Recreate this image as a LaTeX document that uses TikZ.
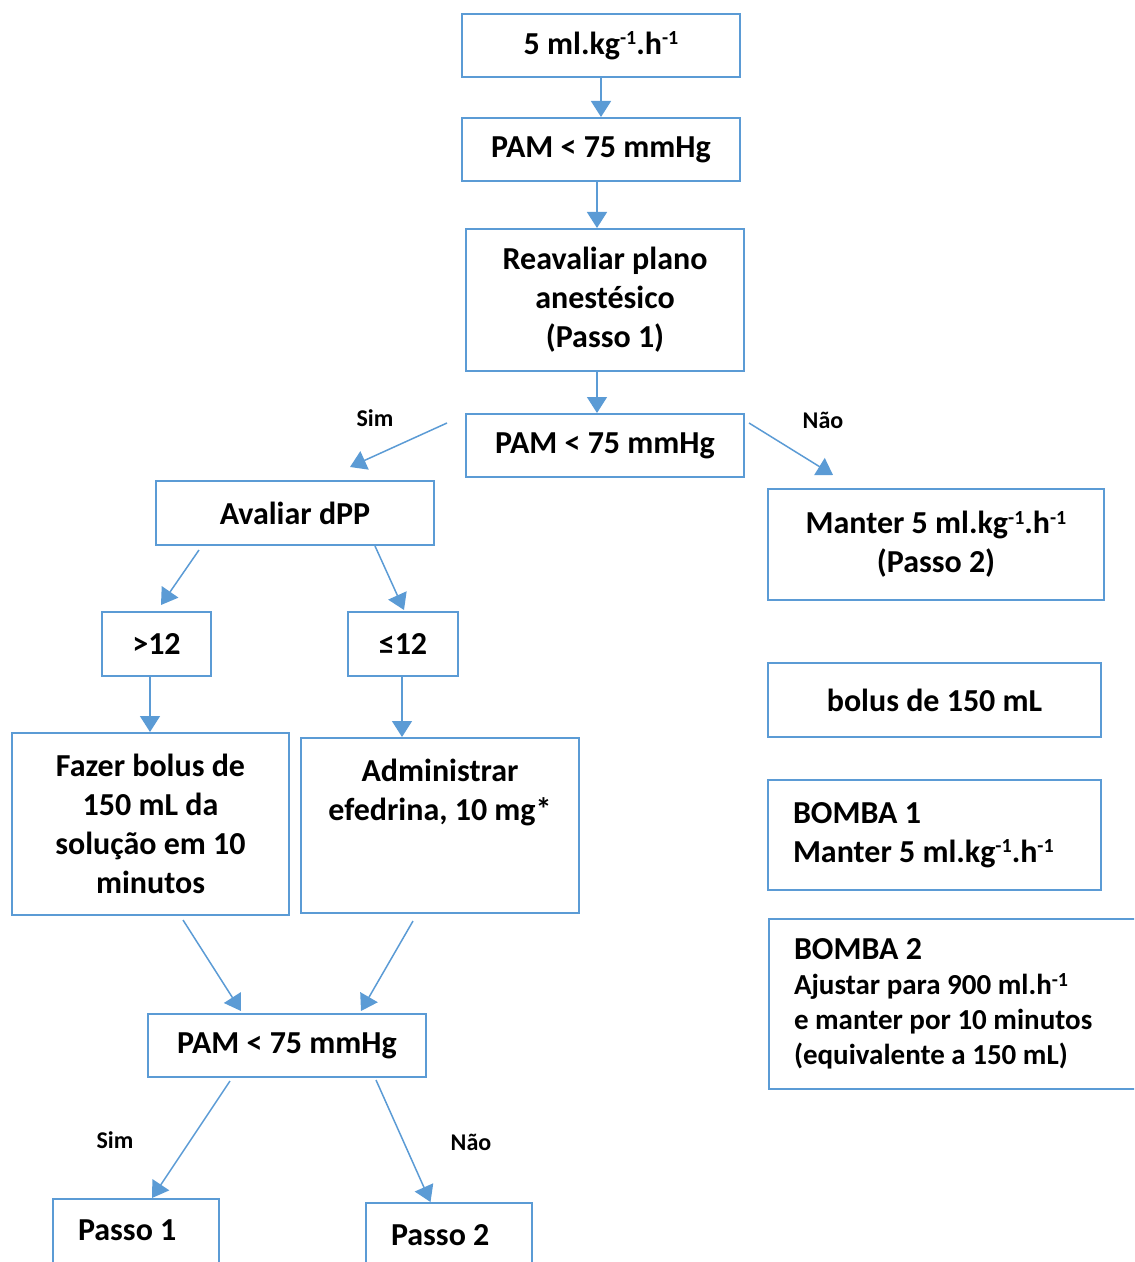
\documentclass[tikz,border=0pt]{standalone}
\usepackage{fontspec}
\setmainfont{Carlito}
\usetikzlibrary{arrows.meta}
\definecolor{boxblue}{HTML}{5B9BD5}
\newcommand\expo[1]{\raisebox{0.62ex}{\fontsize{10}{10}\selectfont#1}}

\begin{document}
\begin{tikzpicture}[x=0.5pt,y=-0.5pt,
    box/.style={draw=boxblue, line width=1pt, inner sep=0pt, align=center,
      font=\bfseries\fontsize{16}{19.5}\selectfont},
    arr/.style={draw=boxblue, line width=0.75pt, -{Triangle[width=10pt,length=8pt]}},
    lbl/.style={font=\bfseries\fontsize{12}{14}\selectfont}]
  \useasboundingbox (0,0) rectangle (1134,1262);
  \clip (0,0) rectangle (1134,1262);

  % main column
  \node[box, minimum width=139pt, minimum height=31.5pt] (dose) at (601,45.5) {5 ml.kg\expo{-1}.h\expo{-1}};
  \node[box, minimum width=139pt, minimum height=31.5pt] (pamA) at (601,149.5) {PAM < 75 mmHg};
  \node[box, minimum width=139pt, minimum height=71pt] (reav) at (605,300) {Reavaliar plano\\anestésico\\(Passo 1)};
  \node[box, minimum width=139pt, minimum height=31.5pt] (pamB) at (605,445.5) {PAM < 75 mmHg};

  % left branch
  \node[box, minimum width=139pt, minimum height=32pt] (aval) at (295,513) {Avaliar dPP};
  \node[box, minimum width=54.5pt, minimum height=32pt] (gt) at (156.5,644) {>12};
  \node[box, minimum width=55pt, minimum height=32pt] (le) at (403,644) {≤12};
  \node[box, minimum width=138.5pt, minimum height=91pt] (fazer) at (150.5,824) {Fazer bolus de\\150 mL da\\solução em 10\\minutos};
  \node[box, anchor=north, minimum width=139pt, inner ysep=10pt, text height=31pt, text depth=36.5pt] (adm) at (440,737) {Administrar\\efedrina, 10 mg*};
  \node[box, minimum width=139pt, minimum height=31.5pt] (pamC) at (287,1045.5) {PAM < 75 mmHg};
  \node[box, anchor=north west, text width=58pt, align=flush left, inner xsep=12.5pt, inner ysep=10.5pt, text depth=40pt] (passoA) at (52,1198) {Passo 1};
  \node[box, anchor=north west, text width=58pt, align=flush left, inner xsep=12.5pt, inner ysep=10.5pt, text depth=40pt] (passoB) at (365,1202) {Passo 2};

  % right column
  \node[box, minimum width=168pt, minimum height=55.5pt] (manter) at (936,544.5) {Manter 5 ml.kg\expo{-1}.h\expo{-1}\\(Passo 2)};
  \node[box, minimum width=166.5pt, minimum height=37pt] (bolus) at (934.5,700) {bolus de 150 mL};
  \node[box, minimum height=55pt, text width=141.5pt, align=flush left, inner xsep=12.5pt] (bombaA) at (934.5,835) {BOMBA 1\\Manter 5 ml.kg\expo{-1}.h\expo{-1}};
  \node[box, anchor=north west, minimum height=85pt, text width=171pt, align=flush left, inner xsep=12.5pt,
    font=\bfseries\fontsize{14.5}{17.5}\selectfont] (bombaB) at (768,918)
    {{\fontsize{16}{19.5}\selectfont BOMBA 2}\\Ajustar para 900 ml.h\expo{-1}\\e manter por 10 minutos\\(equivalente a 150 mL)};

  % labels
  \node[lbl] (simA) at (375,418) {Sim};
  \node[lbl] (naoA) at (823,420) {Não};
  \node[lbl] (simB) at (115,1140) {Sim};
  \node[lbl] (naoB) at (471,1142) {Não};

  % arrows
  \draw[arr] (dose.south) -- (pamA.north);
  \draw[arr] ([shift={(-4,0)}]pamA.south) -- ([shift={(-4,0)}]pamA.south |- reav.north);
  \draw[arr] ([shift={(-8,0)}]reav.south) -- ([shift={(-8,0)}]reav.south |- pamB.north);
  \draw[arr] ([shift={(-18,10)}]pamB.north west) -- ([shift={(195,-13)}]aval.north west);
  \draw[arr] ([shift={(4,10)}]pamB.north east) -- ([shift={(66,-13)}]manter.north west);
  \draw[arr] ([shift={(44,4)}]aval.south west) -- ([shift={(4.5,-6)}]gt.north);
  \draw[arr] ([shift={(-60,0)}]aval.south east) -- ([shift={(1,-1)}]le.north);
  \draw[arr] ([shift={(-6.5,0)}]gt.south) -- ([shift={(-6.5,0)}]gt.south |- fazer.north);
  \draw[arr] ([shift={(-1,0)}]le.south) -- ([shift={(-1,0)}]le.south |- adm.north);
  \draw[arr] ([shift={(32.5,4)}]fazer.south) -- ([shift={(-46,-2)}]pamC.north);
  \draw[arr] ([shift={(-27,7)}]adm.south) -- ([shift={(74,-2)}]pamC.north);
  \draw[arr] ([shift={(-57,3)}]pamC.south) -- ([shift={(16,0)}]passoA.north);
  \draw[arr] ([shift={(89,2)}]pamC.south) -- ([shift={(-18.5,0)}]passoB.north);
\end{tikzpicture}
\end{document}
